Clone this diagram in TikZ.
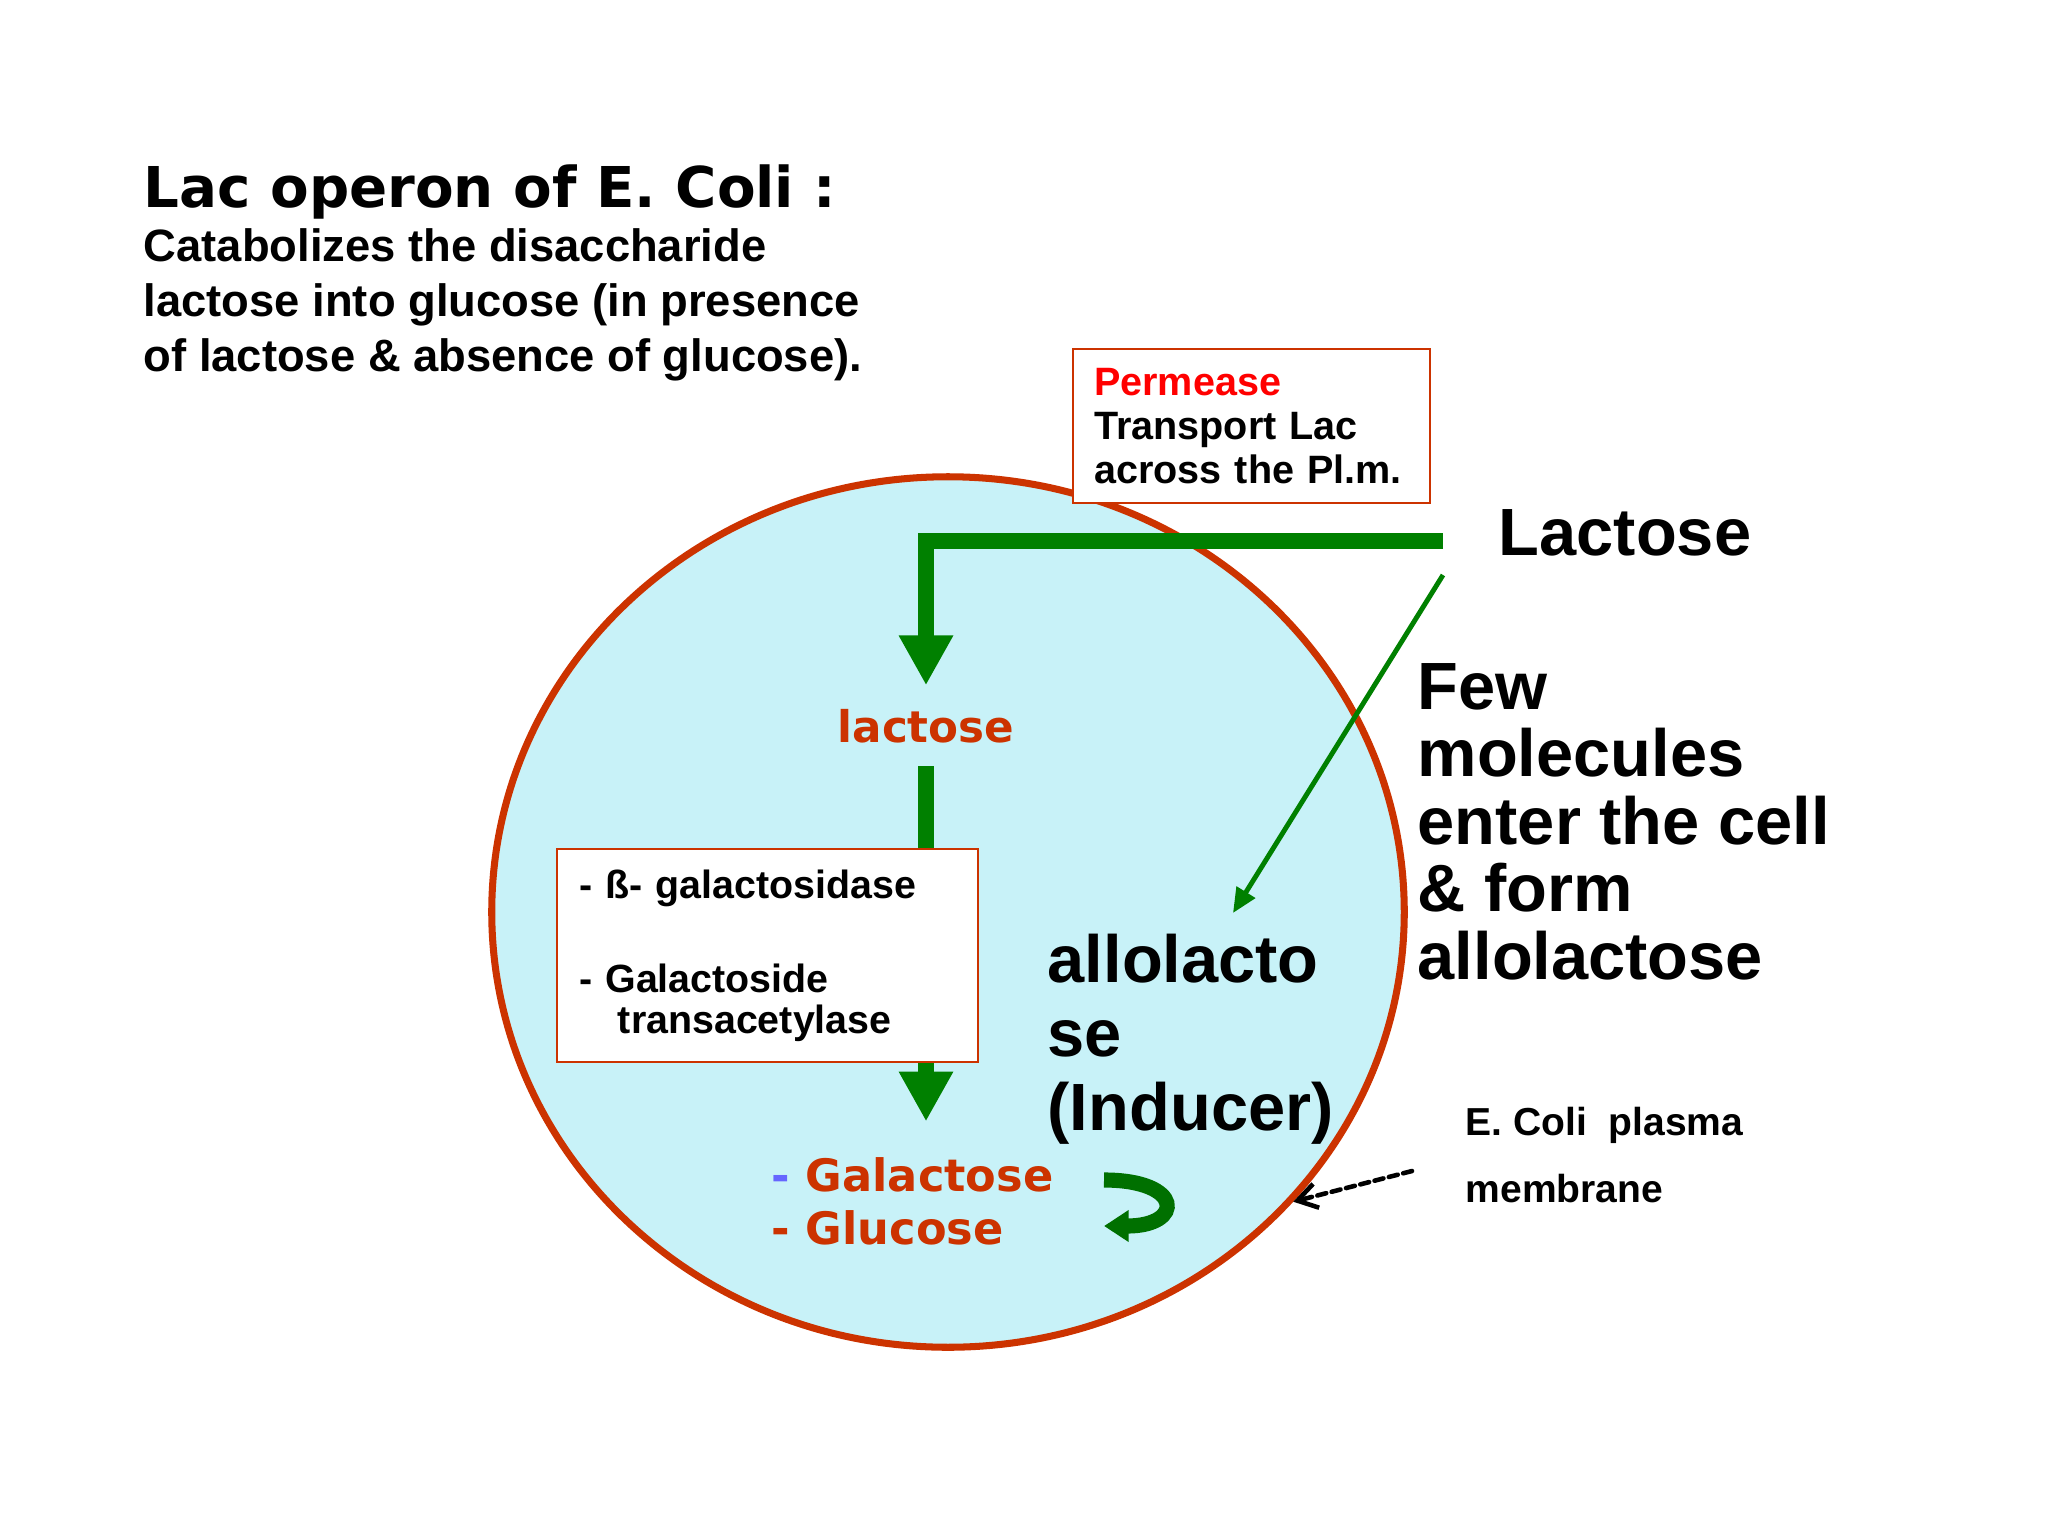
\documentclass[tikz,border=0pt]{standalone}
\usepackage{fontspec}
\setmainfont{Liberation Sans}
\newfontfamily\verd{DejaVu Sans}
\usetikzlibrary{shapes,arrows.meta}
\definecolor{cellblue}{RGB}{200,242,248}
\definecolor{rim}{RGB}{204,51,0}
\definecolor{leafgreen}{RGB}{0,128,0}
\definecolor{darkleaf}{RGB}{0,112,0}
\definecolor{dashblue}{RGB}{102,102,255}

\begin{document}
\begin{tikzpicture}[x=0.01cm,y=-0.01cm,
  txt/.style={anchor=base west,inner sep=0pt,align=left,font=\bfseries},
  infobox/.style={draw=rim,line width=0.6pt,fill=white,anchor=north west,align=left},
  cell/.style={ellipse,draw=rim,line width=2pt,fill=cellblue,inner sep=0pt,minimum width=9.12cm,minimum height=8.70cm},
  bigflow/.style={leafgreen,line width=4.8pt,-{Triangle[length=14.2pt,width=14.5pt]}},
  thinflow/.style={leafgreen,line width=1.4pt,-{Triangle[length=7pt,width=6pt]}},
  turnflow/.style={darkleaf,line width=4.3pt,-{Triangle[length=7pt,width=8.6pt]}},
  pmarrow/.style={black,line width=1.3pt,line cap=round,dash pattern=on 2.6pt off 1.6pt,-{Straight Barb[length=5.5pt,width=7pt]}}]
\useasboundingbox[fill=white] (0,0) rectangle (2048,1536);

% heading (multi-line nodes sit on their last baseline)
\node[txt,font=\verd\bfseries\fontsize{16pt}{19pt}\selectfont] (title) at (143,207) {Lac operon of E. Coli :};
\node[txt,font=\bfseries\fontsize{12.9pt}{15.5pt}\selectfont] (aim) at (143,371)
  {Catabolizes the disaccharide\\lactose into glucose (in presence\\of lactose \& absence of glucose).};

% the cell
\node[cell] (cell) at (948,912) {};

% permease
\node[infobox,text width=89.6pt,inner xsep=6pt,inner ysep=5.4pt,font=\bfseries\fontsize{11.25pt}{12.5pt}\selectfont] (perm) at (1072,348)
  {\textcolor{red}{Permease}\\Transport Lac\\across the Pl.m.};

% outside lactose
\node[txt,font=\bfseries\fontsize{19pt}{19pt}\selectfont] (Lactose) at (1498,555) {Lactose};
\node[txt,font=\bfseries\fontsize{19pt}{19.15pt}\selectfont] (few) at (1417,979)
  {Few\\molecules\\enter the cell\\\& form\\allolactose};
\coordinate (entry) at (1443,541);
\coordinate (leak) at (1443,575);
\coordinate (inducer) at (1233,913);

% inside the cell
\node[anchor=base,inner xsep=2pt,inner ysep=6.5pt,text=rim,font=\verd\bfseries\fontsize{12.4pt}{14pt}\selectfont] (lacin) at (926,742) {lactose};
\node[anchor=base west,inner sep=0pt,inner ysep=10pt,align=left,text=rim,font=\verd\bfseries\fontsize{12.7pt}{15pt}\selectfont] (sugar) at (771,1244)
  {\textcolor{dashblue}{-} Galactose\\- Glucose};
\draw[bigflow] (entry) -| (lacin);
\draw[bigflow] (lacin.south) -- (lacin.south |- sugar.north);
\node[infobox,text width=107pt,inner xsep=6.3pt,inner ysep=5.8pt,font=\bfseries\fontsize{11.2pt}{11.4pt}\selectfont] (enz) at (556,848)
  {- ß- galactosidase\\[15.6pt]- Galactoside\\\hspace*{11pt}transacetylase};
\node[txt,font=\bfseries\fontsize{19pt}{21pt}\selectfont] (allo) at (1047,1130) {allolacto\\se\\(Inducer)};
\draw[thinflow] (leak) -- (inducer);

% turning arrow
\coordinate (turnA) at (1104,1180);
\coordinate (turnB) at (1104,1226);
\draw[turnflow] (turnA) .. controls (1184,1180) and (1184,1226) .. (turnB);

% membrane label
\node[txt,font=\bfseries\fontsize{11.1pt}{19pt}\selectfont] (pm) at (1465,1202) {E. Coli\ \ plasma\\membrane};
\coordinate (pmtail) at (1412,1171);
\draw[pmarrow] (pmtail) -- (cell.-40);
\end{tikzpicture}
\end{document}
